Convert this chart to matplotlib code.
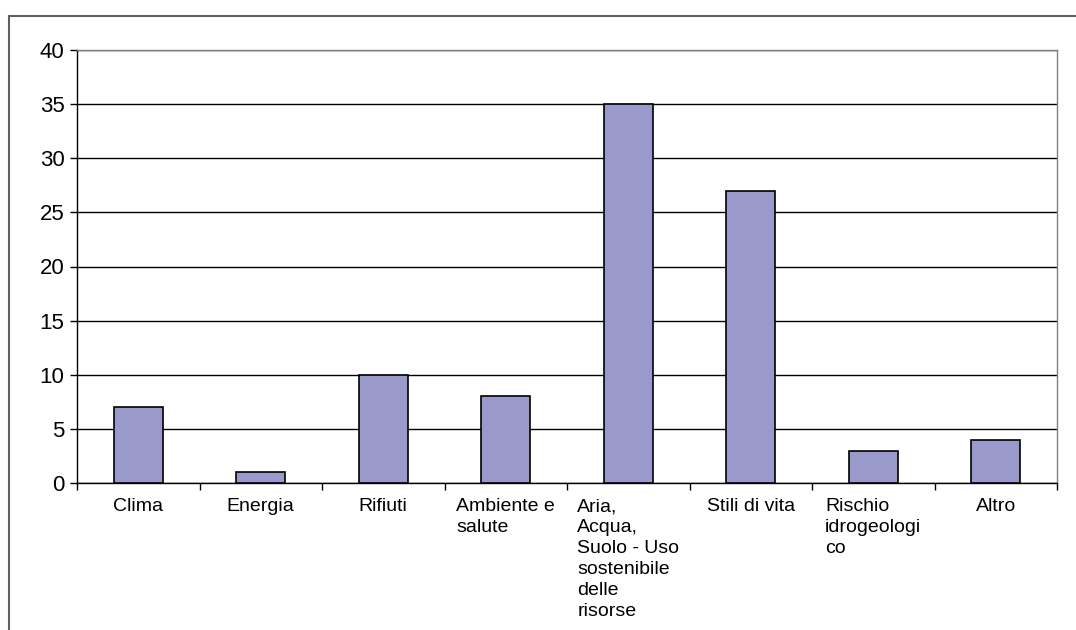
import matplotlib
matplotlib.use('Agg')
import matplotlib.pyplot as plt
from matplotlib.lines import Line2D

# dati
categorie = ['Clima', 'Energia', 'Rifiuti', 'Ambiente e\nsalute',
             'Aria,\nAcqua,\nSuolo - Uso\nsostenibile\ndelle\nrisorse',
             'Stili di vita', 'Rischio\nidrogeologi\nco', 'Altro']
valori = [7, 1, 10, 8, 35, 27, 3, 4]
y_ticks = [0, 5, 10, 15, 20, 25, 30, 35, 40]

plt.rcParams['font.family'] = ['Liberation Sans', 'DejaVu Sans']

fig = plt.figure(figsize=(10.76, 6.30), dpi=100)
ax = fig.add_axes([77/1076, 1 - 483/630, (1057-77)/1076, (483-50)/630])

x = list(range(len(valori)))
ax.bar(x, valori, width=0.4, color='#9999CC', edgecolor='black', linewidth=1.2, zorder=3)

ax.set_xlim(-0.5, len(valori) - 0.5)
ax.set_ylim(0, 40)
ax.set_yticks(y_ticks)
ax.set_yticklabels([str(v) for v in y_ticks], fontsize=16)
ax.yaxis.grid(True, color='black', linewidth=1)
ax.set_axisbelow(True)

ax.set_xticks(x)
ax.set_xticklabels(categorie, fontsize=14, va='top', multialignment='left', linespacing=1.3)
ax.set_xticks([i - 0.5 for i in range(len(valori) + 1)], minor=True)
ax.tick_params(axis='x', which='major', length=0, pad=11)
ax.tick_params(axis='x', which='minor', length=5, width=1, color='black')
ax.tick_params(axis='y', length=5, width=1, color='black', pad=4)

ax.spines['left'].set_color('black')
ax.spines['bottom'].set_color('black')
ax.spines['top'].set_color('#808080')
ax.spines['right'].set_color('#808080')
for s in ax.spines.values():
    s.set_linewidth(1)

# cornice esterna
fig.add_artist(Line2D([9/1076, 9/1076], [0, 1 - 16/630], transform=fig.transFigure,
                      color='#606060', linewidth=1.5))
fig.add_artist(Line2D([9/1076, 1], [1 - 16/630, 1 - 16/630], transform=fig.transFigure,
                      color='#606060', linewidth=1.5))

plt.savefig('out.png', dpi=100)
